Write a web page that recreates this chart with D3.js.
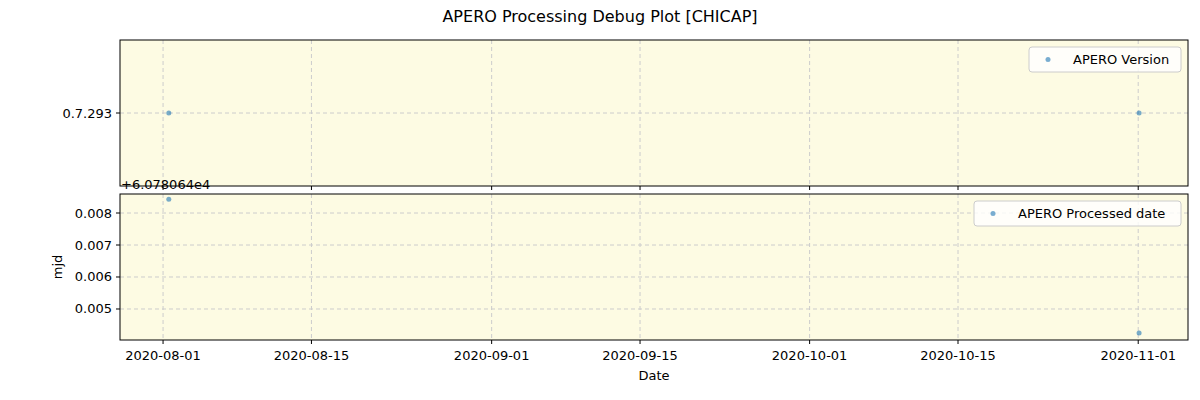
<!DOCTYPE html>
<html><head><meta charset="utf-8">
<script src="https://cdn.jsdelivr.net/npm/d3@7"></script>
<style>body{margin:0;background:#fff}text{font-family:"DejaVu Sans",sans-serif}</style>
</head><body>
<svg id="c" width="1200" height="400"></svg>
<script>
// data
const versionDates = ["2020-08-01T13:00", "2020-11-01T02:00"];
const versions = ["0.7.293", "0.7.293"];
const procDates = ["2020-08-01T13:00", "2020-11-01T02:00"];
const procMjd = [0.00843, 0.00425]; // offset +6.078064e4
const xTicks = ["2020-08-01","2020-08-15","2020-09-01","2020-09-15","2020-10-01","2020-10-15","2020-11-01"];
const yTicks = [0.005, 0.006, 0.007, 0.008];

const svg = d3.select("#c");
const parse = d3.isoParse;
const x = d3.scaleTime().domain([parse("2020-07-27T22:30"), parse("2020-11-05T16:45")]).range([120, 1188]);
const yTop = d3.scalePoint().domain(["0.7.293"]).range([113, 113]);
const yBot = d3.scaleLinear().domain([0.004031, 0.008594]).range([340, 194]);

svg.append("text").attr("x", 600).attr("y", 22).attr("text-anchor", "middle").attr("font-size", 16)
  .text("APERO Processing Debug Plot [CHICAP]");

function panel(top, h, yTickVals, yPos, fmt, pts, label, legW) {
  svg.append("rect").attr("x", 120).attr("y", top).attr("width", 1068).attr("height", h).attr("fill", "#fdfbe3");
  const g = svg.append("g");
  xTicks.forEach(t => {
    const px = x(parse(t));
    g.append("line").attr("x1", px).attr("x2", px).attr("y1", top).attr("y2", top + h)
      .attr("stroke", "#ccc").attr("stroke-dasharray", "4,3");
    g.append("line").attr("x1", px).attr("x2", px).attr("y1", top + h).attr("y2", top + h + 4).attr("stroke", "#000");
  });
  yTickVals.forEach(v => {
    const py = yPos(v);
    g.append("line").attr("x1", 120).attr("x2", 1188).attr("y1", py).attr("y2", py)
      .attr("stroke", "#ccc").attr("stroke-dasharray", "4,3");
    g.append("line").attr("x1", 116).attr("x2", 120).attr("y1", py).attr("y2", py).attr("stroke", "#000");
    g.append("text").attr("x", 112).attr("y", py + 4.5).attr("text-anchor", "end").attr("font-size", 13).text(fmt(v));
  });
  pts.forEach(p => g.append("circle").attr("cx", x(parse(p[0]))).attr("cy", yPos(p[1])).attr("r", 2.5)
    .attr("fill", "#1f77b4").attr("opacity", 0.6));
  svg.append("rect").attr("x", 120).attr("y", top).attr("width", 1068).attr("height", h)
    .attr("fill", "none").attr("stroke", "#000");
  const lx = 1181 - legW;
  svg.append("rect").attr("x", lx).attr("y", top + 7).attr("width", legW).attr("height", 25).attr("rx", 3)
    .attr("fill", "#fff").attr("fill-opacity", 0.8).attr("stroke", "#ccc");
  svg.append("circle").attr("cx", lx + 19).attr("cy", top + 19.5).attr("r", 2.5).attr("fill", "#1f77b4").attr("opacity", 0.6);
  svg.append("text").attr("x", lx + 44).attr("y", top + 24).attr("font-size", 13).text(label);
}

panel(40, 146, ["0.7.293"], yTop, d => d, versionDates.map((d, i) => [d, versions[i]]), "APERO Version", 152);
panel(194, 146, yTicks, yBot, d3.format(".3f"), procDates.map((d, i) => [d, procMjd[i]]), "APERO Processed date", 207);

svg.append("text").attr("x", 121).attr("y", 189).attr("font-size", 13).text("+6.078064e4");
xTicks.forEach(t => svg.append("text").attr("x", x(parse(t))).attr("y", 360).attr("text-anchor", "middle")
  .attr("font-size", 13).text(t));
svg.append("text").attr("x", 654).attr("y", 380).attr("text-anchor", "middle").attr("font-size", 13).text("Date");
svg.append("text").attr("transform", "translate(62,267) rotate(-90)").attr("text-anchor", "middle")
  .attr("font-size", 13).text("mjd");
</script>
</body></html>
